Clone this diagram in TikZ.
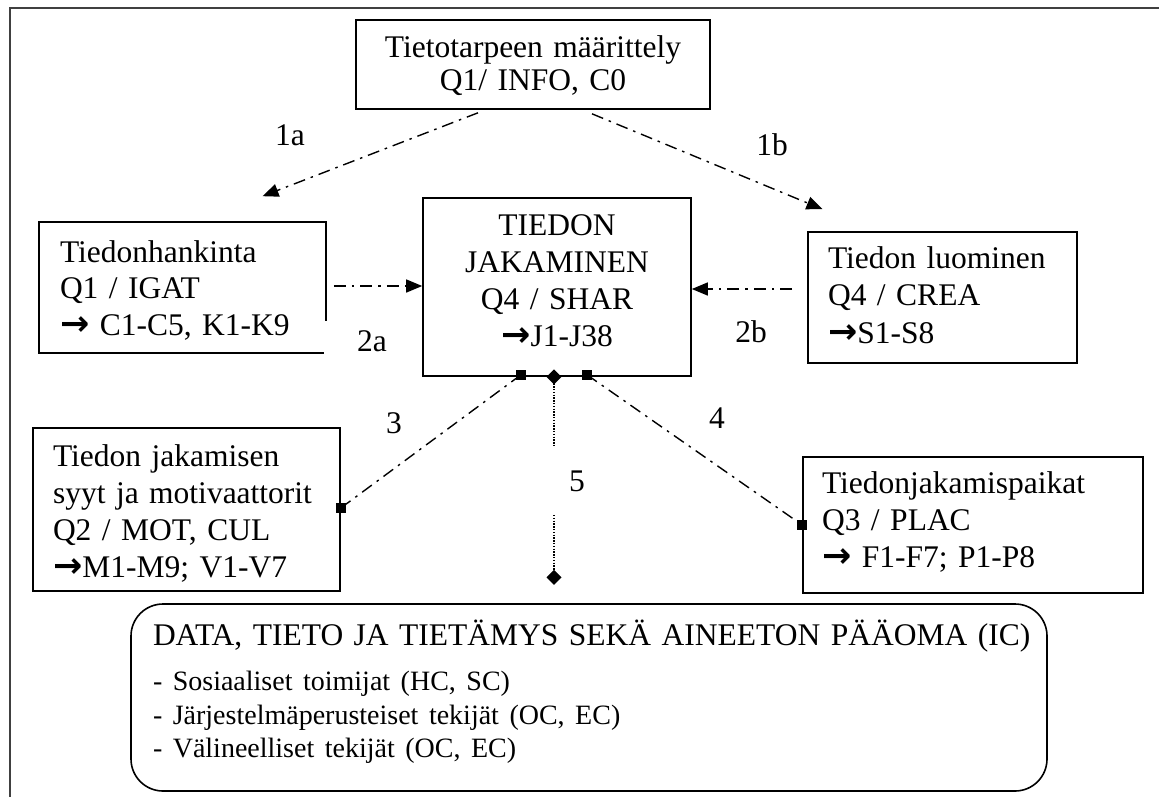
\documentclass[tikz,border=0pt]{standalone}
\usepackage{fontspec}
\setmainfont{Liberation Serif}
\newfontfamily\arrowfont{DejaVu Sans}
\usetikzlibrary{arrows.meta,calc}
% bold arrow glyph used in the code lines
\newcommand\rarr{{\arrowfont\bfseries\fontsize{35}{35}\selectfont →}}
% invisible struts that fix the first-line height and last-line depth
\newcommand\upstrut[1]{\rule{0pt}{#1pt}}
\newcommand\downstrut[1]{\rule[-#1pt]{0pt}{#1pt}}
\begin{document}
\begin{tikzpicture}[x=1pt,y=-1pt,
  box/.style={draw, line width=1.6pt, rectangle, inner ysep=0pt},
  txt/.style={font=\fontsize{31.5}{#1}\selectfont},
  lbl/.style={font=\fontsize{31.5}{36}\selectfont, inner sep=0pt},
  dd/.style={line width=1.4pt, dash pattern=on 12pt off 6pt on 2.5pt off 6pt},
  dotline/.style={line width=1.3pt, dash pattern=on 1.4pt off 1.4pt},
  tri/.style={-{Triangle[length=16pt,width=13pt]}},
  sqmark/.style={rectangle, fill=black, minimum size=10pt, inner sep=0pt},
  dia/.style={{Turned Square[length=15pt,width=15pt]}-{Turned Square[length=15pt,width=15pt]},
              shorten <=-7.5pt}
]
\useasboundingbox (0,0) rectangle (1159,796);

% frame (continues past the right and bottom edges)
\draw[line width=2.5pt, black!75] (1175,8) -- (10,8) -- (10,815);

% boxes
\node[box, txt=33, align=center, text width=334pt, inner xsep=10pt,
      minimum width=354pt, minimum height=89pt] (info) at (533,64.5)
  {\upstrut{26}Tietotarpeen määrittely\\ Q1/ INFO, C0\downstrut{8}};

\node[box, txt=37, align=center, text width=248pt, inner xsep=10pt,
      minimum width=268pt, minimum height=178pt] (shar) at (557,287)
  {\upstrut{22}TIEDON\\ JAKAMINEN\\ Q4 / SHAR\\ \rarr J1-J38\downstrut{15}};

\node[box, txt=36.5, align=left, text width=245pt, inner xsep=21pt,
      minimum width=287pt, minimum height=131pt] (hank) at (182.5,287.5)
  {\upstrut{28}Tiedonhankinta\\ Q1 / IGAT\\ \rarr\ C1-C5, K1-K9\downstrut{6}};

\node[box, txt=37.5, align=left, text width=229pt, inner xsep=20pt,
      minimum width=269pt, minimum height=131pt] (crea) at (942.5,297.5)
  {\upstrut{22}Tiedon luominen\\ Q4 / CREA\\ \rarr S1-S8\downstrut{6}};

\node[box, txt=36.7, align=left, text width=267pt, inner xsep=20pt,
      minimum width=307pt, minimum height=163pt] (mot) at (186.5,509.5)
  {\upstrut{32}Tiedon jakamisen\\ syyt ja motivaattorit\\ Q2 / MOT, CUL\\
   \rarr M1-M9; V1-V7\downstrut{7}};

\node[box, txt=37, align=left, text width=302pt, inner xsep=19pt,
      minimum width=340pt, minimum height=136pt] (plac) at (973,525)
  {\upstrut{22}Tiedonjakamispaikat\\ Q3 / PLAC\\ \rarr\ F1-F7; P1-P8\downstrut{12}};

\node[box, rounded corners=32pt, txt=33.5, align=left, text width=872pt, inner xsep=22pt,
      minimum width=916pt, minimum height=187pt] (data) at (589,697.5)
  {\upstrut{30}\mbox{DATA, TIETO JA TIETÄMYS SEKÄ AINEETON PÄÄOMA (IC)}\\[12pt]
   {\fontsize{28}{33.5}\selectfont
   - Sosiaaliset toimijat (HC, SC)\\
   - Järjestelmäperusteiset tekijät (OC, EC)\\
   - Välineelliset tekijät (OC, EC)\downstrut{22.5}}};

% free end of the dotted link
\coordinate (end5) at ($(shar.south)+(-3,208)$);

% connectors
\draw[dd, tri] ($(info.south)+(-55,3)$) -- ($(hank.north)+(80,-25)$);
\draw[dd, tri] ($(info.south)+(59,4)$) -- ($(crea.north)+(-120,-22)$);
\draw[dd, tri] ($(hank.east)+(7,-1.5)$) -- ($(shar.west)+(0,-1)$);
\draw[dd, tri] ($(crea.west)+(-15,-8.5)$) -- ($(shar.east)+(0,2)$);
\draw[dd] ($(shar.south)+(-36,-2)$) node[sqmark] (m3a) {}
      -- ($(mot.east)+(0,-1.5)$) node[sqmark] (m3b) {};
\draw[dd] ($(shar.south)+(30,-2)$) node[sqmark] (m4a) {}
      -- (plac.west) node[sqmark] (m4b) {};
\draw[dotline, dia] ($(shar.south)+(-3,0)$) -- (end5);

% connector labels
\node[lbl] (l1a) at (290,135) {1a};
\node[lbl] (l1b) at (772,145) {1b};
\node[lbl, fill=white, minimum width=96pt, minimum height=40pt] (l2a) at (372,341) {2a};
\node[lbl] (l2b) at (751,332) {2b};
\node[lbl] (l3) at (394,423) {3};
\node[lbl] (l4) at (717,418) {4};
\node[lbl, fill=white, minimum width=56pt, minimum height=66pt] (l5) at (577,481) {5};
\end{tikzpicture}
\end{document}
